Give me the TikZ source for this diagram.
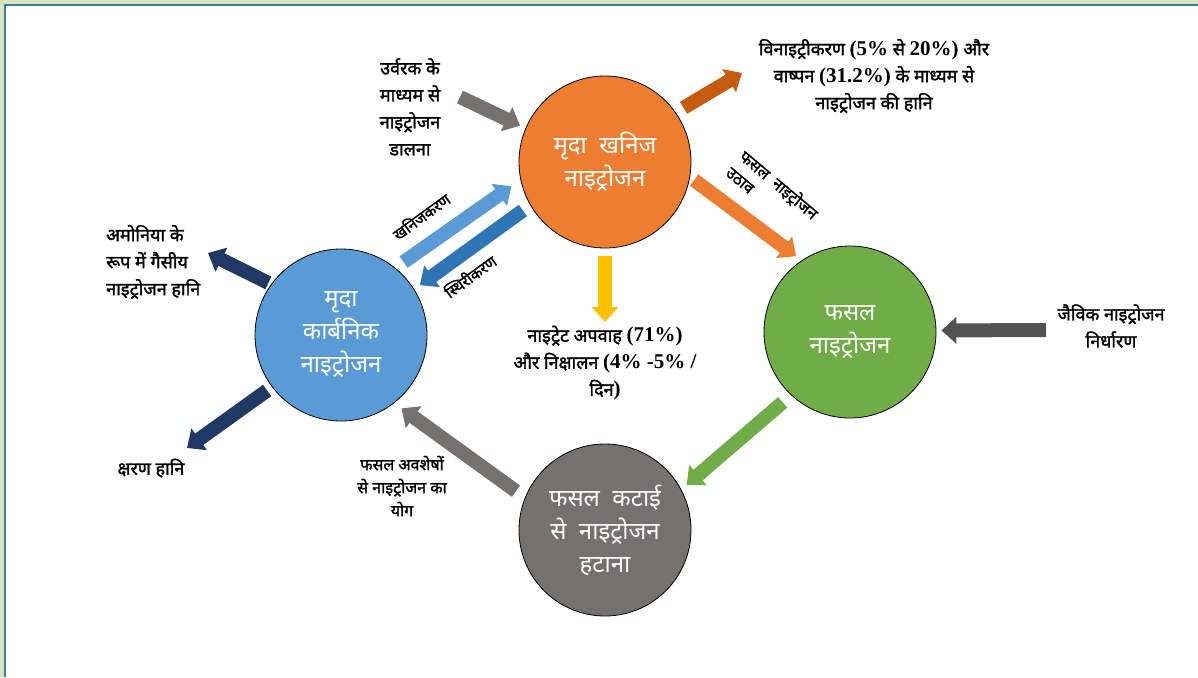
\documentclass[tikz,border=0pt]{standalone}
\usepackage{fontspec}
\setmainfont{Noto Sans}[Script=Devanagari, BoldFont={Noto Sans}, BoldFeatures={FakeBold=1.6}]
\newfontfamily\tnr{Liberation Serif}
\usetikzlibrary{arrows.meta}
\definecolor{minorg}{HTML}{ED7D31}
\definecolor{dkorg}{HTML}{C55A11}
\definecolor{orgblue}{HTML}{5B9BD5}
\definecolor{midblue}{HTML}{2E75B6}
\definecolor{navy}{HTML}{203864}
\definecolor{cropgreen}{HTML}{70AD47}
\definecolor{harvgray}{HTML}{767171}
\definecolor{fixgray}{HTML}{525252}
\definecolor{runyellow}{HTML}{FFC000}
\definecolor{bordgreen}{HTML}{D6E3BC}
\definecolor{bordblue}{HTML}{31849B}
\newcommand{\nm}[1]{{\tnr\fontsize{21}{27}\selectfont #1}}

\begin{document}
\begin{tikzpicture}[x=1pt, y=-1pt,
  blk/.style={-{Triangle[length=15pt, width=26pt]}, line width=14pt, draw=#1},
  pool/.style={circle, draw=black, line width=0.8pt, fill=#1, minimum size=172pt,
    inner sep=0pt, text=white, align=center, font=\fontsize{24}{33}\selectfont},
  lbl/.style={align=center, font=\fontsize{18}{27}\selectfont\bfseries, inner sep=1pt},
  tag/.style={font=\fontsize{15.5}{15.5}\selectfont\bfseries, inner sep=0pt},
]
\useasboundingbox (0,0) rectangle (1198,677);

% Frame
\fill[white] (0,0) rectangle (1198,677);
\fill[bordgreen] (0,0) rectangle (1198,4);
\fill[bordgreen] (0,0) rectangle (4,677);
\draw[bordblue, line width=2pt] (5,677) -- (5,5) -- (1198,5);

% =============================================
% Nitrogen pools
% =============================================
\node[pool=minorg] (min) at (605,162) {मृदा \ खनिज\\नाइट्रोजन};
\node[pool=orgblue] (org) at (341,335) {मृदा\\कार्बनिक\\नाइट्रोजन};
\node[pool=cropgreen] (crop) at (850,332) {फसल\\नाइट्रोजन};
\node[pool=harvgray] (harv) at (605,530) {फसल \ कटाई\\से \ नाइट्रोजन\\हटाना};

% =============================================
% Labels
% =============================================
\node[lbl] (fert) at (410,107) {उर्वरक के\\माध्यम से\\नाइट्रोजन\\डालना};
\node[lbl] (denit) at (874,76)
  {विनाइट्रीकरण \nm{(5\%} से \nm{20\%)} और\\वाष्पन \nm{(31.2\%)} के माध्यम से\\नाइट्रोजन की हानि};
\node[lbl] (runoff) at (605,363)
  {नाइट्रेट अपवाह \nm{(71\%)}\\और निक्षालन \nm{(4\% -5\% /}\\दिन\nm{)}};
\node[lbl, align=left, anchor=west] (ammo) at (105,262)
  {अमोनिया के\\रूप में गैसीय\\नाइट्रोजन हानि};
\node[lbl] (leach) at (151,468) {क्षरण हानि};
\node[lbl, font=\fontsize{16}{23}\selectfont\bfseries] (resid) at (402,486)
  {फसल अवशेषों\\से नाइट्रोजन का\\योग};
\node[lbl] (fix) at (1111,326) {जैविक नाइट्रोजन\\निर्धारण};

% Rotated arrow tags
\node[tag, align=left, rotate=-40, font=\fontsize{16}{21}\selectfont\bfseries] (upt) at (773,192)
  {फसल \ नाइट्रोजन\\उठाव};
\node[tag, rotate=36] (miner) at (421,216) {खनिजकरण};
\node[tag, rotate=36] (immob) at (470,276) {स्थिरीकरण};

% =============================================
% Free arrow ends
% =============================================
\coordinate (fertT) at (460,97);
\coordinate (denT) at (742,73);
\coordinate (runT) at (605,322);
\coordinate (ammT) at (208,253);
\coordinate (leachT) at (187,448);
\coordinate (fixT) at (1046,330);

% =============================================
% Flows
% =============================================
\draw[blk=harvgray, shorten >=6pt] (fertT) -- (min.157);
\draw[blk=dkorg, shorten <=9pt] (min.35) -- (denT);
\draw[blk=minorg, shorten <=5pt, shorten >=7pt] (min.-10) -- (crop.124);
\draw[blk=runyellow, shorten <=8pt] (min.south) -- (runT);
\draw[blk=orgblue, shorten <=10pt, shorten >=11pt] (org.51) -- (min.192);
\draw[blk=midblue, shorten <=9pt, shorten >=7pt] (min.210) -- (org.32);
\draw[blk=navy, shorten <=3pt] (org.144) -- (ammT);
\draw[blk=navy, shorten <=6pt] (org.217) -- (leachT);
\draw[blk=harvgray, shorten <=11pt, shorten >=9pt] (harv.158) -- (org.-52);
\draw[blk=cropgreen, shorten <=11pt, shorten >=7pt] (crop.227) -- (harv.28);
\draw[blk=fixgray, shorten >=5pt] (fixT) -- (crop.1);

\end{tikzpicture}
\end{document}
